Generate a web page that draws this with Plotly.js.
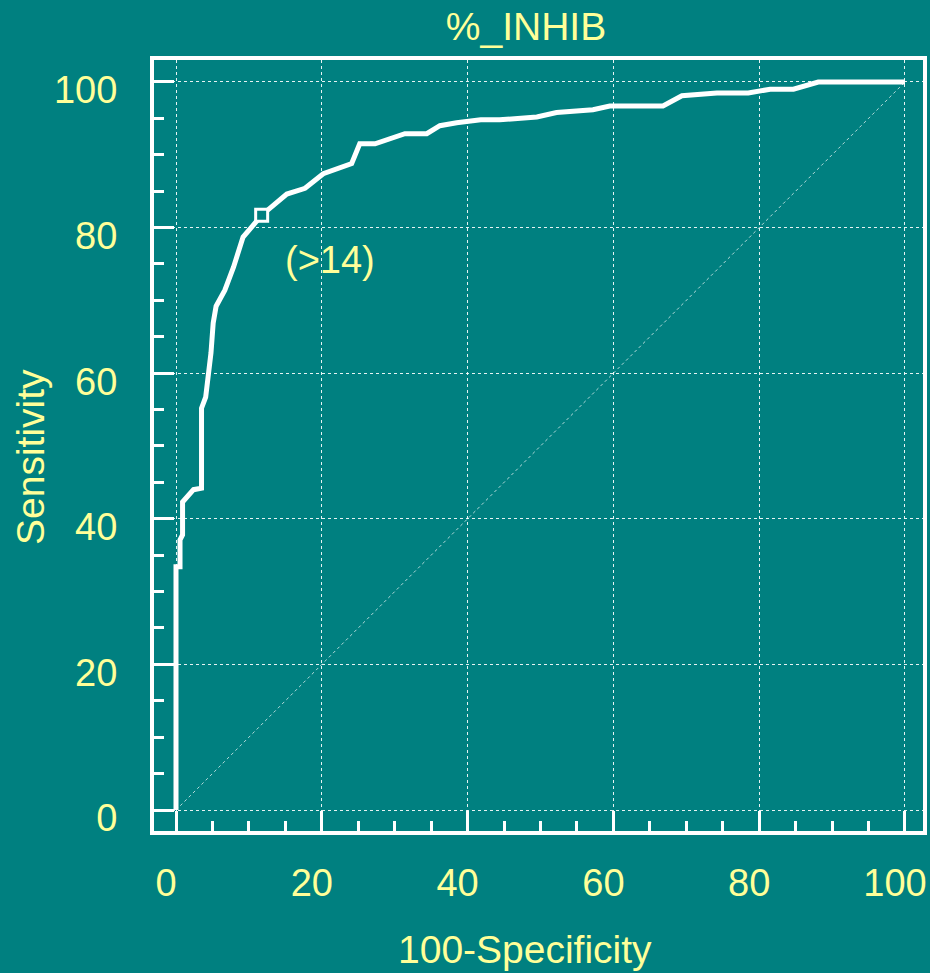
<!DOCTYPE html>
<html>
<head>
<meta charset="utf-8">
<script src="https://cdn.plot.ly/plotly-3.0.1.min.js"></script>
<style>
  html, body { margin: 0; padding: 0; background: #008080; }
  #chart { width: 930px; height: 973px; }
</style>
</head>
<body>
<div id="chart"></div>
<script>
// ROC curve for %_INHIB
const fpr = [0, 0, 0.55, 0.55, 0.9, 0.9, 2.4, 3.5, 3.5, 4.07, 4.8, 5.1, 5.5, 6.7, 7.9, 9.2, 10.4, 11.75,
             15.2, 17.7, 20.2, 24.1, 25.2, 27.3, 31.4, 34.4, 36.2, 38.5, 41.8, 44.4, 49.5, 52.2, 57.2, 59.5,
             66.8, 69.4, 74.2, 78.5, 81.5, 84.7, 88.1, 100];
const tpr = [0, 33.4, 33.4, 37.1, 37.8, 42.3, 44.0, 44.2, 55.2, 56.7, 62.8, 66.9, 69.2, 71.4, 74.6, 78.7, 80.1, 81.7,
             84.6, 85.4, 87.4, 88.8, 91.5, 91.5, 92.9, 92.9, 94.0, 94.4, 94.8, 94.8, 95.2, 95.8, 96.2, 96.7,
             96.7, 98.1, 98.5, 98.5, 99.0, 99.0, 100, 100];
const diagX = [0, 100];
const diagY = [0, 100];
const criterionX = [11.75];
const criterionY = [81.7];
const criterionLabel = "(>14)";
const tickVals = [0, 20, 40, 60, 80, 100];
const tickText = ["0", "20", "40", "60", "80", "100"];
const xTitle = "100-Specificity";
const yTitle = "Sensitivity";
const chartTitle = "%_INHIB";

const BG = "rgb(0,128,128)";
const TXT = "rgb(255,255,153)";
const FONT = "Liberation Sans, Arial, sans-serif";

const traces = [
  { x: diagX, y: diagY, mode: "lines", line: { color: "rgba(255,255,255,0.7)", width: 1, dash: "dot" },
    hoverinfo: "skip", showlegend: false },
  { x: fpr, y: tpr, mode: "lines", line: { color: "white", width: 5 }, showlegend: false },
  { x: criterionX, y: criterionY, mode: "markers",
    marker: { symbol: "square", size: 12, color: BG, line: { color: "white", width: 3 } }, showlegend: false }
];

const axisCommon = {
  showline: true, linecolor: "white", linewidth: 4, mirror: true,
  ticks: "inside", ticklen: 20, tickwidth: 3, tickcolor: "white",
  minor: { dtick: 5, tick0: 0, ticks: "inside", ticklen: 10, tickwidth: 3, tickcolor: "white", showgrid: false },
  tickmode: "array", tickvals: tickVals, ticktext: tickText,
  showgrid: true, gridcolor: "rgba(255,255,255,0.9)", gridwidth: 1, griddash: "dot",
  zeroline: false,
  tickfont: { family: FONT, size: 38, color: TXT },
  fixedrange: true
};

const layout = {
  width: 930, height: 973,
  paper_bgcolor: BG, plot_bgcolor: BG,
  margin: { l: 154, r: 7, t: 60, b: 142, pad: 0 },
  title: { text: chartTitle, font: { family: FONT, size: 39, color: TXT },
           x: 526 / 930, xanchor: "center", xref: "container", y: 1 - 26 / 973, yanchor: "middle", yref: "container" },
  xaxis: Object.assign({}, axisCommon, {
    range: [-3.018, 102.47],
    ticklabelshift: -10, ticklabelstandoff: 15
  }),
  yaxis: Object.assign({}, axisCommon, {
    range: [-2.885, 103.02],
    ticklabelshift: 8, ticklabelstandoff: 25
  }),
  annotations: [
    { x: 21.1, y: 75.5, xref: "x", yref: "y", text: criterionLabel, showarrow: false,
      font: { family: FONT, size: 38, color: TXT }, xanchor: "center", yanchor: "middle" },
    { x: (31 - 154) / 769, y: (831 - 457) / 771, xref: "paper", yref: "paper", text: yTitle, showarrow: false,
      textangle: -90, font: { family: FONT, size: 39, color: TXT }, xanchor: "center", yanchor: "middle" },
    { x: (525 - 154) / 769, y: (831 - 950) / 771, xref: "paper", yref: "paper", text: xTitle, showarrow: false,
      font: { family: FONT, size: 39, color: TXT }, xanchor: "center", yanchor: "middle" }
  ]
};

Plotly.newPlot("chart", traces, layout, { displayModeBar: false, staticPlot: true });
</script>
</body>
</html>
